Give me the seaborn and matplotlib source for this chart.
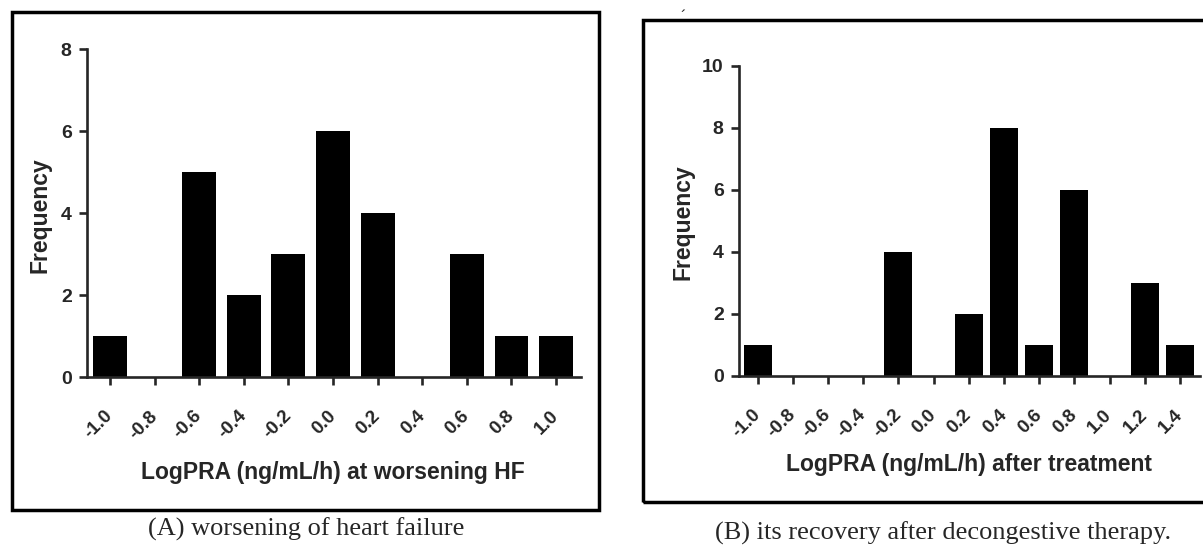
import numpy as np
import pandas as pd
import seaborn as sns
import matplotlib.pyplot as plt
from matplotlib.patches import Rectangle

# histogram counts
bins_a = [-1.0, -0.8, -0.6, -0.4, -0.2, 0.0, 0.2, 0.4, 0.6, 0.8, 1.0]
freq_a = [1, 0, 5, 2, 3, 6, 4, 0, 3, 1, 1]
bins_b = [-1.0, -0.8, -0.6, -0.4, -0.2, 0.0, 0.2, 0.4, 0.6, 0.8, 1.0, 1.2, 1.4]
freq_b = [1, 0, 0, 0, 4, 0, 2, 8, 1, 6, 0, 3, 1]
yticks_a = [0, 2, 4, 6, 8]
yticks_b = [0, 2, 4, 6, 8, 10]
ylabel = "Frequency"
xlabel_a = "LogPRA (ng/mL/h) at worsening HF"
xlabel_b = "LogPRA (ng/mL/h) after treatment"
caption_a = "(A) worsening of heart failure"
caption_b = "(B) its recovery after decongestive therapy."

W, H = 1203, 546
sns.set_style("ticks")
plt.rcParams['font.family'] = ['Liberation Sans', 'DejaVu Sans']

fig = plt.figure(figsize=(W / 100, H / 100), dpi=100)


def box(l, t, r, b):
    # pixel box (from top left) -> figure fraction
    return [l / W, 1 - b / H, (r - l) / W, (b - t) / H]


def fpos(x, y):
    return x / W, 1 - y / H


def panel(rect, bins, freq, width, yticks, xlabel, xlim, ylab_xy, xlab_xy):
    ax = fig.add_axes(box(*rect))
    df = pd.DataFrame({"bin": bins, "freq": freq})
    sns.barplot(data=df, x="bin", y="freq", native_scale=True, width=width,
                color="black", saturation=1, edgecolor="black", linewidth=0,
                errorbar=None, ax=ax)
    ax.set_xlim(*xlim)
    ax.set_ylim(0, yticks[-1])
    ax.set_xticks(bins)
    ax.set_xticklabels([f"{b:.1f}" for b in bins], rotation=45, ha="right",
                       va="center", rotation_mode="anchor",
                       fontsize=13.5, fontweight="bold")
    ax.set_yticks(yticks)
    ax.set_yticklabels([str(v) for v in yticks], fontsize=14, fontweight="bold")
    ax.tick_params(axis="x", length=6, width=1.9, pad=20)
    ax.tick_params(axis="y", length=6, width=1.9, pad=5)
    for s in ["top", "right"]:
        ax.spines[s].set_visible(False)
    for s in ["left", "bottom"]:
        ax.spines[s].set_linewidth(1.9)
    ax.set_facecolor("none")
    ax.set_ylabel(ylabel, fontsize=16.5, fontweight="bold")
    ax.set_xlabel(xlabel, fontsize=16.5, fontweight="bold")
    ax.yaxis.set_label_coords(*fpos(*ylab_xy), transform=fig.transFigure)
    ax.xaxis.set_label_coords(*fpos(*xlab_xy), transform=fig.transFigure)
    ax.yaxis.label.set_va("center")
    ax.xaxis.label.set_va("center")
    return ax


# outer frames
fig.add_artist(Rectangle((11.5 / W, 1 - 509.5 / H), (599 - 11.5) / W, (509.5 - 12) / H,
                         transform=fig.transFigure, fill=False, ec="black", lw=2.5))
fig.add_artist(Rectangle((642.5 / W, 1 - 501.5 / H), (1215 - 642.5) / W, (501.5 - 20) / H,
                         transform=fig.transFigure, fill=False, ec="black", lw=2.5))

panel((87, 49.4, 580.6, 377.4), bins_a, freq_a, 0.76, yticks_a, xlabel_a,
      (-1.103, 1.11), (40, 215), (333, 472))
panel((739, 65.7, 1200, 376), bins_b, freq_b, 0.8, yticks_b, xlabel_b,
      (-1.106, 1.514), (683, 222), (969, 464))

fig.text(*fpos(306, 529), caption_a, family="Liberation Serif", fontsize=19,
         ha="center", va="center")
fig.text(*fpos(943, 533), caption_b, family="Liberation Serif", fontsize=19,
         ha="center", va="center")
fig.text(*fpos(683, 17), "´", fontsize=12, ha="center", va="center")

fig.savefig("out.png", dpi=100)
